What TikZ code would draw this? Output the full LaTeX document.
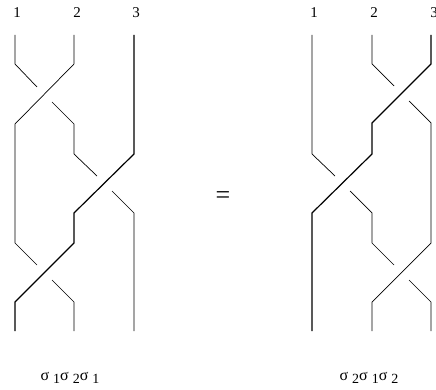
\documentclass[tikz,border=0pt]{standalone}
\usepackage{fontspec}
\setmainfont{Liberation Serif}
\newcommand{\sgsub}[1]{σ\hspace{4pt}\raisebox{-3.5pt}{\fontsize{14}{14}\selectfont #1}}
\begin{document}
\begin{tikzpicture}[x=1pt,y=-1pt,
  strand/.style={line width=0.7pt},
  thickstrand/.style={line width=1.2pt},
  lab/.style={font=\fontsize{15}{17}\selectfont, inner sep=0pt},
  wordlab/.style={font=\fontsize{16}{18}\selectfont, inner sep=0pt}]
\useasboundingbox (0,0) rectangle (436,390);
% left braid
\draw[strand] (15,35) -- (15,64) -- (37,87);
\draw[strand] (52,102) -- (74,124) -- (74,154) -- (97,176);
\draw[strand] (112,191) -- (134,213) -- (134,331);
\draw[strand] (74,35) -- (74,64) -- (15,124) -- (15,243) -- (37,265);
\draw[strand] (52,280) -- (74,302) -- (74,331);
\draw[thickstrand] (134,35) -- (134,154) -- (74,213) -- (74,243) -- (15,302) -- (15,331);
% right braid
\draw[strand] (372,35) -- (372,64) -- (394,86);
\draw[strand] (409,101) -- (431,123) -- (431,243) -- (372,302) -- (372,331);
\draw[strand] (312,35) -- (312,154) -- (335,176);
\draw[strand] (350,191) -- (372,213) -- (372,243) -- (394,265);
\draw[strand] (409,280) -- (431,302) -- (431,331);
\draw[thickstrand] (431,35) -- (431,64) -- (372,123) -- (372,154) -- (312,213) -- (312,331);
% labels
\node[lab] (l1) at (17,13) {1};
\node[lab] (l2) at (77,13) {2};
\node[lab] (l3) at (136,13) {3};
\node[lab] (r1) at (314,13) {1};
\node[lab] (r2) at (374,13) {2};
\node[lab] (r3) at (434,13) {3};
\node[font=\fontsize{26}{28}\selectfont, inner sep=0pt] (eq) at (223,198) {=};
\node[wordlab, anchor=base] (wl) at (70,380) {\sgsub{1}\sgsub{2}\sgsub{1}};
\node[wordlab, anchor=base] (wr) at (369,380) {\sgsub{2}\sgsub{1}\sgsub{2}};
\end{tikzpicture}
\end{document}
